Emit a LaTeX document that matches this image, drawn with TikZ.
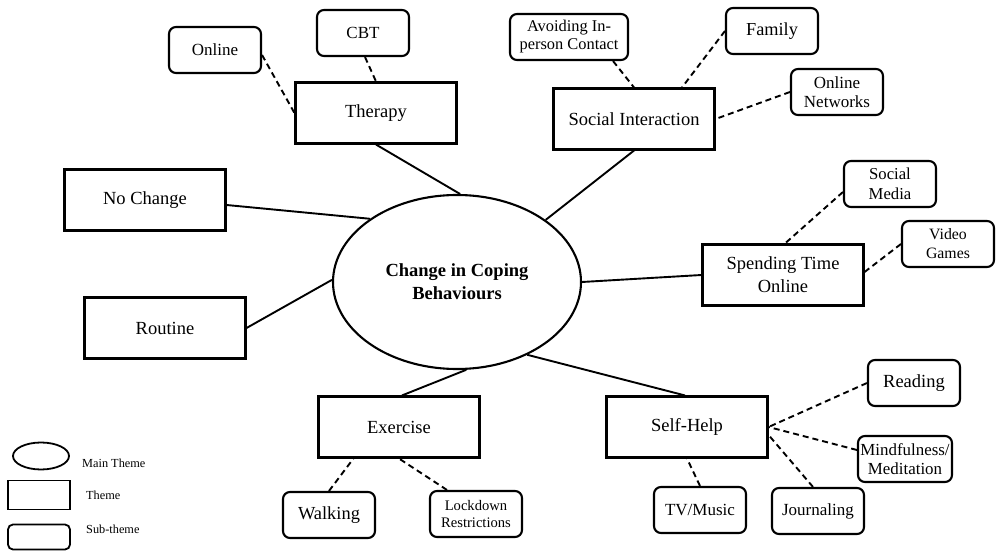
\documentclass[tikz,border=0pt]{standalone}
\usepackage{fontspec}
\setmainfont{Liberation Serif}
\usetikzlibrary{shapes.geometric}
\begin{document}
\begin{tikzpicture}[x=1pt,y=-1pt,
  theme/.style={draw, line width=2.1pt, minimum width=161pt, minimum height=61pt, inner sep=0pt, align=center, font=\fontsize{18.5}{23}\selectfont},
  sub/.style={draw, line width=2.1pt, rounded corners=7pt, minimum width=92pt, minimum height=46pt, inner sep=0pt, align=center, font=\fontsize{17}{19}\selectfont},
  mainnode/.style={draw, ellipse, line width=2.1pt, minimum width=248pt, minimum height=174pt, inner sep=0pt, align=center, font=\fontsize{18.5}{23}\selectfont\bfseries},
  link/.style={line width=1.9pt},
  dlink/.style={line width=1.9pt, dash pattern=on 6pt off 4pt},
  legtext/.style={anchor=west, inner sep=0pt, font=\fontsize{12.3}{14}\selectfont}
]
\useasboundingbox (0,0) rectangle (996,553);

% main theme
\node[mainnode] (main) at (457,282) {Change in Coping\\Behaviours};

% themes
\node[theme] (therapy) at (376,113) {Therapy};
\node[theme] (social) at (634,119) {Social Interaction};
\node[theme] (nochange) at (145,200) {No Change};
\node[theme] (routine) at (165,328) {Routine};
\node[theme] (spend) at (783,275) {Spending Time\\Online};
\node[theme] (exercise) at (399,427) {Exercise};
\node[theme] (selfhelp) at (687,427) {Self-Help};

% sub-themes
\node[sub] (online) at (215,50) {Online};
\node[sub] (cbt) at (363,33) {CBT};
\node[sub, minimum width=118pt, font=\fontsize{16.4}{18}\selectfont] (avoid) at (569,37) {Avoiding In-\\person Contact};
\node[sub, font=\fontsize{18.3}{20}\selectfont] (family) at (772,31) {Family};
\node[sub] (onlnet) at (837,92) {Online\\Networks};
\node[sub, font=\fontsize{16.7}{20}\selectfont] (smedia) at (890,184) {Social\\Media};
\node[sub, font=\fontsize{15.8}{19}\selectfont] (video) at (948,244) {Video\\Games};
\node[sub, font=\fontsize{18.4}{20}\selectfont] (walking) at (329,515) {Walking};
\node[sub, font=\fontsize{14.6}{17}\selectfont] (lockdown) at (476,514) {Lockdown\\Restrictions};
\node[sub, font=\fontsize{18.5}{20}\selectfont] (reading) at (914,383) {Reading};
\node[sub, minimum width=94pt, font=\fontsize{16.9}{19}\selectfont] (mind) at (905,459) {Mindfulness/\\Meditation};
\node[sub] (tv) at (700,510) {TV/Music};
\node[sub] (journ) at (818,511) {Journaling};

% solid connectors
\draw[link] (therapy.south) -- (main.88);
\draw[link] ([yshift=-5pt]nochange.east) -- (main.144);
\draw[link] (routine.east) -- (main.179);
\draw[link] (social.south) -- (main.35);
\draw[link] (main.east) -- (spend.west);
\draw[link] ([xshift=3pt]exercise.north) -- (main.-84);
\draw[link] ([xshift=-2pt]selfhelp.north) -- (main.-46);

% dashed connectors
\draw[dlink] ([yshift=-5pt]online.east) -- (therapy.west);
\draw[dlink] ([xshift=2pt]cbt.south) -- (therapy.north);
\draw[dlink] ([xshift=-16pt]avoid.south east) -- (social.north);
\draw[dlink] (family.west) -- ([xshift=48pt]social.north);
\draw[dlink] (onlnet.west) -- (social.east);
\draw[dlink] ([yshift=-8pt]smedia.west) -- ([xshift=2pt]spend.north);
\draw[dlink] (video.west) -- ([yshift=3pt]spend.east);
\draw[dlink] (walking.north) -- ([xshift=36pt]exercise.south west);
\draw[dlink] ([xshift=18pt]lockdown.north west) -- (exercise.south);
\draw[dlink] (reading.west) -- (selfhelp.east);
\draw[dlink] ([yshift=9pt]mind.west) -- (selfhelp.east);
\draw[dlink] ([xshift=-5pt]journ.north) -- ([yshift=-8pt]selfhelp.east);
\draw[dlink] (tv.north) -- (selfhelp.south);

% legend
\node[draw, ellipse, line width=1.8pt, minimum width=56pt, minimum height=27pt, inner sep=0pt] (legmain) at (41,456) {};
\node[draw, line width=1.8pt, minimum width=62pt, minimum height=29pt, inner sep=0pt] (legtheme) at (39,495) {};
\node[draw, line width=1.8pt, rounded corners=5pt, minimum width=62pt, minimum height=25pt, inner sep=0pt] (legsub) at (39,537) {};
\node[legtext] (lt1) at (82,463) {Main Theme};
\node[legtext] (lt2) at (86,495) {Theme};
\node[legtext] (lt3) at (86,529) {Sub-theme};
\end{tikzpicture}
\end{document}
